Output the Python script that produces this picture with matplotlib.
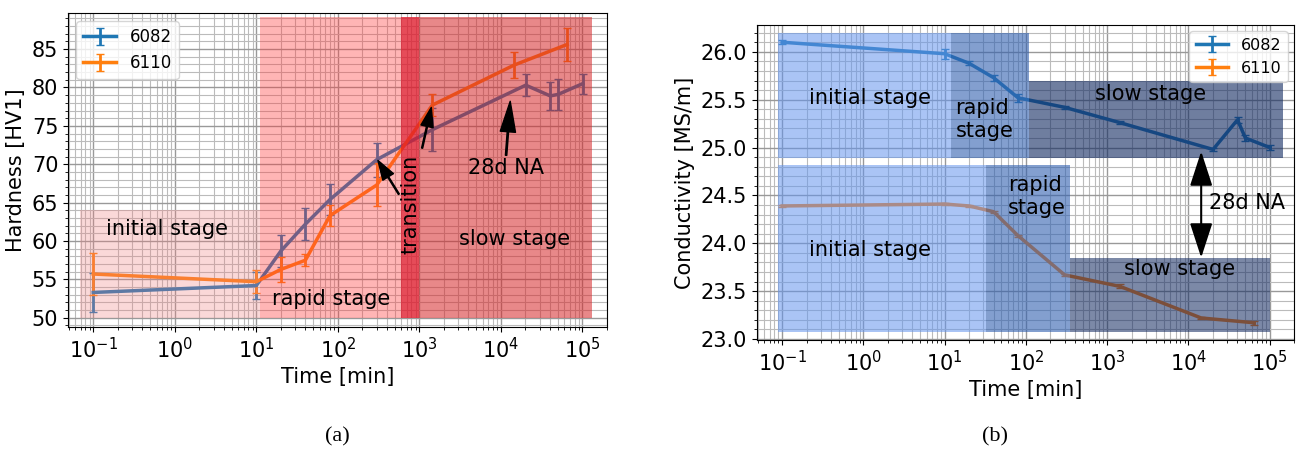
import numpy as np
import matplotlib
matplotlib.use("Agg")
import matplotlib.pyplot as plt
from matplotlib.patches import ArrowStyle
from matplotlib.ticker import MultipleLocator

# ---- data: hardness (a) ----
t_6082_h = [0.1, 10, 20, 40, 80, 300, 1440, 20160, 40320, 50400, 100800]
hv_6082 = [53.3, 54.2, 58.7, 62.2, 65.4, 70.6, 74.5, 80.3, 78.9, 79.1, 80.5]
hv_6082_err = [2.5, 1.8, 2.1, 2.1, 2.0, 2.2, 2.8, 1.4, 1.8, 2.0, 1.3]

t_6110_h = [0.1, 10, 20, 40, 80, 300, 1440, 14400, 64800]
hv_6110 = [55.7, 54.7, 56.3, 57.5, 63.3, 67.3, 77.7, 82.9, 85.6]
hv_6110_err = [2.7, 1.5, 1.6, 0.8, 1.4, 2.8, 1.4, 1.7, 2.2]

# stage boxes (a): x0, x1, y0, y1
stages_a = {
    "initial": (0.069, 11, 50, 64),
    "rapid": (11, 600, 50, 89.2),
    "transition": (600, 1000, 50, 89.2),
    "slow": (1000, 1.3e5, 50, 89.2),
}

# ---- data: conductivity (b) ----
t_6082_c = [0.1, 10, 20, 40, 80, 300, 1440, 20160, 40320, 50400, 100800]
ec_6082 = [26.10, 25.98, 25.88, 25.73, 25.52, 25.42, 25.26, 24.98, 25.29, 25.10, 25.00]
ec_6082_err = [0.02, 0.05, 0.02, 0.03, 0.04, 0.015, 0.015, 0.02, 0.03, 0.03, 0.03]

t_6110_c = [0.1, 10, 20, 40, 80, 300, 1440, 14400, 64800]
ec_6110 = [24.39, 24.41, 24.39, 24.33, 24.08, 23.67, 23.55, 23.22, 23.17]
ec_6110_err = [0.01, 0.015, 0.01, 0.01, 0.01, 0.01, 0.02, 0.01, 0.02]

stages_b = {
    "initial_6082": (0.089, 12, 24.89, 26.2),
    "rapid_6082": (12, 110, 24.89, 26.2),
    "slow_6082": (110, 1.45e5, 24.89, 25.69),
    "initial_6110": (0.089, 32, 23.07, 24.82),
    "rapid_6110": (32, 350, 23.07, 24.82),
    "slow_6110": (350, 1.0e5, 23.07, 23.85),
}

fs = 15
fig = plt.figure(figsize=(12.98, 4.5), dpi=100)
W, H = 1298, 450
ax1 = fig.add_axes([68 / W, (H - 327) / H, (607 - 68) / W, (327 - 13) / H])
ax2 = fig.add_axes([757 / W, (H - 340) / H, (1294 - 757) / W, (340 - 25) / H])


def box(ax, b, color, alpha):
    x0, x1, y0, y1 = b
    ax.fill_between([x0, x1], y0, y1, color=color, alpha=alpha, lw=0, zorder=3)


def style(ax, major, minor):
    ax.set_xscale("log")
    ax.minorticks_on()
    ax.yaxis.set_major_locator(MultipleLocator(major))
    ax.yaxis.set_minor_locator(MultipleLocator(minor))
    ax.grid(which="major", color="#999999", lw=1.0, zorder=1)
    ax.grid(which="minor", color="#bbbbbb", lw=0.8, zorder=1)
    ax.tick_params(labelsize=fs)
    ax.set_xlabel("Time [min]", fontsize=fs)
    ax.set_xlim(0.049, 2.0e5)


eb = dict(capsize=3, lw=2.5, elinewidth=2, zorder=2)

# ---- (a) ----
ax1.errorbar(t_6082_h, hv_6082, yerr=hv_6082_err, color="C0", label="6082", **eb)
ax1.errorbar(t_6110_h, hv_6110, yerr=hv_6110_err, color="C1", label="6110", **eb)
box(ax1, stages_a["initial"], "lightcoral", 0.3)
box(ax1, stages_a["rapid"], "#ff3838", 0.37)
box(ax1, stages_a["transition"], "#e0192a", 0.78)
box(ax1, stages_a["slow"], "tab:red", 0.55)
style(ax1, 5, 1)
ax1.set_ylim(48.8, 89.7)
ax1.set_ylabel("Hardness [HV1]", fontsize=fs)
ax1.text(0.145, 61.6, "initial stage", fontsize=fs, va="center", zorder=4)
ax1.text(15.7, 52.4, "rapid stage", fontsize=fs, va="center", zorder=4)
ax1.text(14900, 60.3, "slow stage", fontsize=fs, ha="center", va="center", zorder=4)
ax1.text(775, 64.8, "transition", fontsize=fs, rotation=90, ha="center", va="center", zorder=4)
ax1.annotate("28d NA", xy=(13000, 78.2), xytext=(11500, 69.5), fontsize=fs,
             ha="center", va="center", zorder=4,
             arrowprops=dict(facecolor="black", width=1, headwidth=11, headlength=22))
ax1.annotate("", xy=(310, 70.5), xytext=(560, 66.1), zorder=4,
             arrowprops=dict(facecolor="black", width=0.8, headwidth=9, headlength=14))
ax1.annotate("", xy=(1400, 77.4), xytext=(1080, 72.1), zorder=4,
             arrowprops=dict(facecolor="black", width=0.8, headwidth=9, headlength=14))
leg = ax1.legend(loc="upper left", fontsize=12)
leg.set_zorder(6)

# ---- (b) ----
ax2.errorbar(t_6082_c, ec_6082, yerr=ec_6082_err, color="C0", label="6082", **eb)
ax2.errorbar(t_6110_c, ec_6110, yerr=ec_6110_err, color="C1", label="6110", **eb)
box(ax2, stages_b["initial_6082"], "cornflowerblue", 0.55)
box(ax2, stages_b["rapid_6082"], "#3060b0", 0.6)
box(ax2, stages_b["slow_6082"], "#102860", 0.6)
box(ax2, stages_b["initial_6110"], "cornflowerblue", 0.55)
box(ax2, stages_b["rapid_6110"], "#3060b0", 0.6)
box(ax2, stages_b["slow_6110"], "#102860", 0.55)
style(ax2, 0.5, 0.1)
ax2.set_ylim(22.99, 26.28)
ax2.set_ylabel("Conductivity [MS/m]", fontsize=fs)
ax2.text(1.2, 25.52, "initial stage", fontsize=fs, ha="center", va="center", zorder=4)
ax2.text(13.6, 25.29, "rapid\nstage", fontsize=fs, va="center", zorder=4)
ax2.text(3470, 25.56, "slow stage", fontsize=fs, ha="center", va="center", zorder=4)
ax2.text(1.2, 23.93, "initial stage", fontsize=fs, ha="center", va="center", zorder=4)
ax2.text(60, 24.49, "rapid\nstage", fontsize=fs, va="center", zorder=4)
ax2.text(7700, 23.73, "slow stage", fontsize=fs, ha="center", va="center", zorder=4)
ax2.text(18000, 24.42, "28d NA", fontsize=fs, va="center", zorder=4)
ax2.annotate("", xy=(14400, 24.96), xytext=(14400, 23.85), zorder=4,
             arrowprops=dict(arrowstyle=ArrowStyle("<|-|>", head_length=0.4, head_width=0.13),
                             mutation_scale=54, color="black", lw=1.5,
                             shrinkA=0, shrinkB=0))
leg = ax2.legend(loc="upper right", fontsize=11.5, borderaxespad=0.4)
leg.set_zorder(6)

fig.text(337 / W, 1 - 437 / H, "(a)", fontsize=16, family="Liberation Serif",
         ha="center", va="center")
fig.text(995 / W, 1 - 437 / H, "(b)", fontsize=16, family="Liberation Serif",
         ha="center", va="center")

fig.savefig("out.png", dpi=100, facecolor="white")
